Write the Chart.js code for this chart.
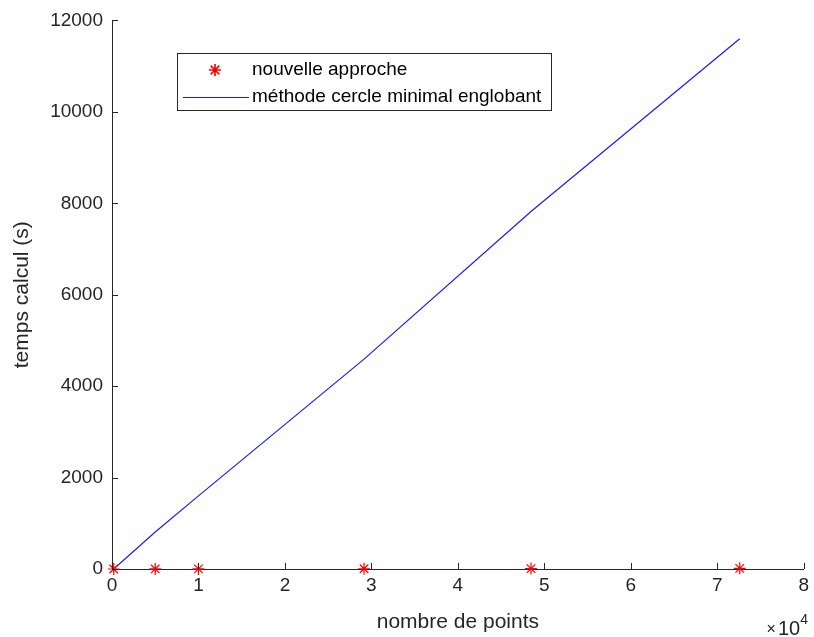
<!DOCTYPE html>
<html>
<head>
<meta charset="utf-8">
<script src="https://cdn.jsdelivr.net/npm/chart.js@4/dist/chart.umd.min.js"></script>
<style>
  html, body { margin: 0; padding: 0; background: #fff; }
  #wrap { width: 814px; height: 637px; }
</style>
</head>
<body>
<div id="wrap"><canvas id="chart" width="814" height="637"></canvas></div>
<script>
// values
const nbPoints = [200, 5000, 10000, 29150, 48460, 72600];
const newApproachTimes = [0.3, 1, 2, 5, 9, 14];
const mceTimes = [0, 810, 1600, 4590, 7820, 11600];
const xTicks = [0, 10000, 20000, 30000, 40000, 50000, 60000, 70000, 80000];
const xTickLabels = ['0', '1', '2', '3', '4', '5', '6', '7', '8'];
const yTickLabels = ['0', '2000', '4000', '6000', '8000', '10000', '12000'];
const seriesLabels = ['nouvelle approche', 'méthode cercle minimal englobant'];

const FONT = '"Liberation Sans", Arial, Helvetica, sans-serif';
const AXIS = '#262626';

// MATLAB-like inward tick marks, x10^4 multiplier and boxed legend
const matlabBits = {
  id: 'matlabBits',
  afterDraw(chart) {
    const ctx = chart.ctx;
    const xs = chart.scales.x, ys = chart.scales.y;
    const a = chart.chartArea;
    ctx.save();
    ctx.strokeStyle = AXIS;
    ctx.lineWidth = 1;
    ctx.beginPath();
    xs.ticks.forEach(t => {
      const px = Math.round(xs.getPixelForValue(t.value)) + 0.5;
      ctx.moveTo(px, a.bottom);
      ctx.lineTo(px, a.bottom - 6);
    });
    ys.ticks.forEach(t => {
      const py = Math.round(ys.getPixelForValue(t.value)) + 0.5;
      ctx.moveTo(a.left, py);
      ctx.lineTo(a.left + 6, py);
    });
    ctx.stroke();

    // x10^4
    ctx.fillStyle = AXIS;
    ctx.textBaseline = 'alphabetic';
    ctx.textAlign = 'right';
    ctx.font = '14px ' + FONT;
    ctx.fillText('4', 808, 624);
    const w4 = ctx.measureText('4').width;
    ctx.font = '20px ' + FONT;
    ctx.fillText('10', 808 - w4, 635);
    const w10 = ctx.measureText('10').width;
    ctx.font = '16px ' + FONT;
    ctx.fillText('\u00d7', 808 - w4 - w10 - 2, 634);

    // legend
    const ds = chart.data.datasets;
    const bx = 177, by = 53, bw = 374, bh = 57;
    ctx.fillStyle = '#fff';
    ctx.fillRect(bx, by, bw, bh);
    ctx.strokeStyle = AXIS;
    ctx.strokeRect(bx + 0.5, by + 0.5, bw, bh);
    ctx.font = '19px ' + FONT;
    ctx.textAlign = 'left';
    ctx.textBaseline = 'middle';
    ctx.fillStyle = '#000';
    const rows = [70, 97];
    // star marker
    ctx.strokeStyle = ds[0].borderColor;
    ctx.lineWidth = 1.2;
    Chart.helpers.drawPoint(ctx, { pointStyle: 'star', radius: 6, borderWidth: 1.2 }, 215, rows[0]);
    ctx.stroke();
    // line sample
    ctx.strokeStyle = ds[1].borderColor;
    ctx.lineWidth = 1.2;
    ctx.beginPath();
    ctx.moveTo(183, rows[1] + 0.5);
    ctx.lineTo(249, rows[1] + 0.5);
    ctx.stroke();
    ctx.fillText(ds[0].label, 252, rows[0]);
    ctx.fillText(ds[1].label, 252, rows[1]);
    ctx.restore();
  }
};

new Chart(document.getElementById('chart'), {
  type: 'scatter',
  data: {
    datasets: [
      {
        label: seriesLabels[0],
        data: nbPoints.map((x, i) => ({ x: x, y: newApproachTimes[i] })),
        showLine: false,
        pointStyle: 'star',
        pointRadius: 6,
        pointBorderWidth: 1.2,
        borderColor: '#ff0000',
        backgroundColor: '#ff0000',
        clip: false,
        order: 0
      },
      {
        label: seriesLabels[1],
        data: nbPoints.map((x, i) => ({ x: x, y: mceTimes[i] })),
        showLine: true,
        pointRadius: 0,
        borderColor: '#1a1aff',
        borderWidth: 1.2,
        tension: 0,
        order: 1
      }
    ]
  },
  options: {
    responsive: false,
    animation: false,
    events: [],
    layout: { padding: { top: 20, right: 8, left: 0, bottom: 0 } },
    plugins: { legend: { display: false }, tooltip: { enabled: false } },
    scales: {
      x: {
        type: 'linear',
        min: 0, max: 80000,
        afterBuildTicks: s => { s.ticks = xTicks.map(v => ({ value: v })); },
        afterFit: s => { s.height = 68; },
        grid: { display: false, drawTicks: false },
        border: { display: true, color: AXIS, width: 1 },
        ticks: {
          color: AXIS, padding: 5, maxRotation: 0,
          font: { family: FONT, size: 19 },
          callback: (v, i) => xTickLabels[i]
        },
        title: {
          display: true, text: 'nombre de points', color: AXIS,
          font: { family: FONT, size: 21 }, padding: { bottom: 2 }
        }
      },
      y: {
        type: 'linear',
        min: 0, max: 12000,
        afterBuildTicks: s => { s.ticks = yTickLabels.map(v => ({ value: Number(v) })); },
        afterFit: s => { s.width = 112; },
        grid: { display: false, drawTicks: false },
        border: { display: true, color: AXIS, width: 1 },
        ticks: {
          color: AXIS, padding: 9,
          font: { family: FONT, size: 19 },
          callback: (v, i) => yTickLabels[i]
        },
        title: {
          display: true, text: 'temps calcul (s)', color: AXIS,
          font: { family: FONT, size: 21 }, padding: { top: 10 }
        }
      }
    }
  },
  plugins: [matlabBits]
});
</script>
</body>
</html>
